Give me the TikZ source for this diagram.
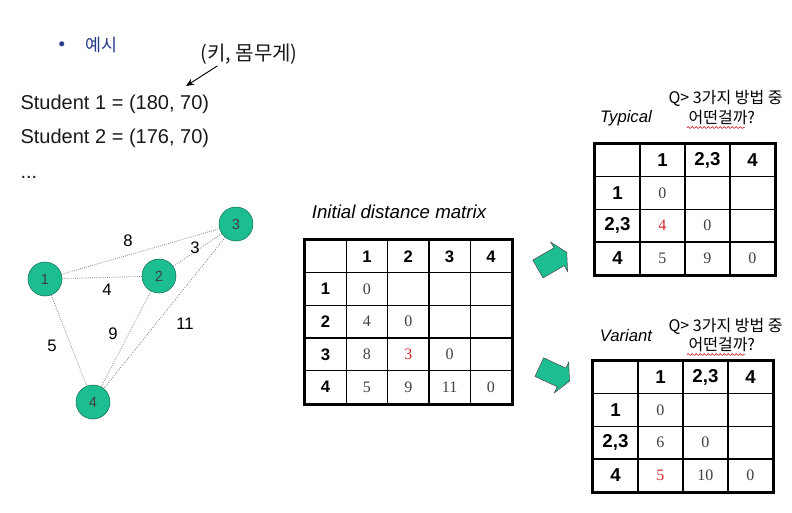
\documentclass[tikz,border=0pt]{standalone}
\usepackage{fontspec}
\setmainfont{Liberation Sans}
\newfontfamily\numfont{Liberation Serif}
\newfontfamily\krfont{Noto Sans CJK KR}
\usetikzlibrary{arrows.meta, positioning, matrix, shapes.arrows, decorations.pathmorphing}

\definecolor{vertexgreen}{RGB}{28,190,145}
\definecolor{vertexline}{RGB}{20,110,85}
\definecolor{bulletblue}{RGB}{40,60,140}
\definecolor{hotred}{RGB}{215,40,45}

\begin{document}
\begin{tikzpicture}[
    x=0.75pt, y=-0.75pt,
    txt/.style={inner sep=1pt, font=\fontsize{15}{18}\selectfont, text=black!90},
    vertex/.style={circle, draw=vertexline, fill=vertexgreen, minimum size=25.5pt, inner sep=0pt, font=\fontsize{11}{13}\selectfont, text=black!75},
    link/.style={gray, densely dotted, line width=0.6pt},
    weight/.style={inner sep=1pt, font=\fontsize{12.5}{15}\selectfont},
    cell/.style={draw, line width=1pt, inner sep=0pt, anchor=center, minimum height=24.5pt},
    entry/.style={font=\numfont\fontsize{12}{14}\selectfont, text=black!75},
    head/.style={font=\bfseries\fontsize{#1}{#1}\selectfont, text=black},
    hot/.style={text=hotred},
    dmatrix/.style 2 args={matrix of nodes, nodes in empty cells, inner sep=0pt,
        column sep=-1pt, row sep=-1pt, nodes={cell, entry, minimum width=#1},
        row 1/.style={nodes={head=#2}}, column 1/.style={nodes={head=#2}}},
    frame/.style={line width=2.2pt},
    caption/.style={inner sep=1pt, font=\itshape\fontsize{12.5}{15}\selectfont},
    qtext/.style={inner sep=1pt, anchor=west, font=\krfont\fontsize{12}{14}\selectfont},
    squiggle/.style={hotred, line width=0.5pt, decorate, decoration={snake, amplitude=0.7pt, segment length=3pt}},
    bigarrow/.style={single arrow, draw=black!70, fill=vertexgreen, minimum height=25pt, inner sep=7.5pt,
        single arrow head extend=5pt, single arrow tip angle=125},
    pointer/.style={-{Stealth[length=6pt, width=5pt]}, line width=0.7pt}
]
    \useasboundingbox (0,0) rectangle (792,512);

    % Example text
    \node[font=\fontsize{14}{14}\selectfont, text=bulletblue] (dot) at (62,46) {•};
    \node[txt, font=\krfont\fontsize{13}{15}\selectfont, text=bulletblue, anchor=west] (ex) at (84,45) {예시};
    \node[txt, font=\krfont\fontsize{15}{18}\selectfont] (kg) at (249,54) {(키, 몸무게)};
    \coordinate (kgtip) at (186,86);
    \draw[pointer] ([xshift=14pt]kg.south west) -- (kgtip);

    \node[txt, anchor=west] (st1) at (19,104) {Student 1 = (180, 70)};
    \node[txt, anchor=west] (st2) at (19,138) {Student 2 = (176, 70)};
    \node[txt, anchor=west] (more) at (19,177) {...};

    % Graph
    \node[vertex] (n1) at (45,279) {1};
    \node[vertex] (n2) at (159,276) {2};
    \node[vertex] (n3) at (236,224) {3};
    \node[vertex] (n4) at (93,402) {4};

    \draw[link] (n1) -- (n3);
    \draw[link] (n2) -- (n3);
    \draw[link] (n1) -- (n2);
    \draw[link] (n1) -- (n4);
    \draw[link] (n2) -- (n4);
    \draw[link] (n3) -- (n4);

    \node[weight] (w13) at (128,241) {8};
    \node[weight] (w23) at (195,248) {3};
    \node[weight] (w12) at (107,290) {4};
    \node[weight] (w14) at (52,346) {5};
    \node[weight] (w24) at (113,334) {9};
    \node[weight] (w34) at (185,324) {11};

    % Initial matrix
    \node[caption, font=\itshape\fontsize{14}{16}\selectfont] (distcap) at (399,212) {Initial distance matrix};
    \matrix (dist) [dmatrix={31pt}{12.5}, anchor=north west] at (304,239) {
          & 1 & 2 & 3 & 4 \\
        1 & 0 &   &   &   \\
        2 & 4 & 0 &   &   \\
        3 & 8 & |[hot]| 3 & 0 & \\
        4 & 5 & 9 & 11 & 0 \\
    };
    \draw[frame] (dist.north west) rectangle (dist.south east);

    \node[bigarrow, rotate=30] (toup) at (550,262) {};
    \node[bigarrow, rotate=-25] (todown) at (552,373) {};

    % Typical
    \node[caption] (typcap) at (626,118) {Typical};
    \node[qtext] (typq) at (667,98) {Q> 3가지 방법 중};
    \node[qtext] (typqb) at (687,118) {어떤걸까?};
    \draw[squiggle] ([yshift=-0.5pt]typqb.south west) -- ([xshift=-9pt, yshift=-0.5pt]typqb.south east);
    \matrix (typ) [dmatrix={33.75pt}{14}, anchor=north west] at (594,143) {
            & 1 & 2,3 & 4 \\
        1   & 0 &     &   \\
        2,3 & |[hot]| 4 & 0 & \\
        4   & 5 & 9 & 0 \\
    };
    \draw[frame] (typ.north west) rectangle (typ.south east);

    % Variant
    \node[caption] (varcap) at (626,336) {Variant};
    \node[qtext] (varq) at (667,326) {Q> 3가지 방법 중};
    \node[qtext] (varqb) at (687,345) {어떤걸까?};
    \draw[squiggle] ([yshift=-0.5pt]varqb.south west) -- ([xshift=-9pt, yshift=-0.5pt]varqb.south east);
    \matrix (var) [dmatrix={33.75pt}{14}, anchor=north west] at (592,360) {
            & 1 & 2,3 & 4 \\
        1   & 0 &     &   \\
        2,3 & 6 & 0 &   \\
        4   & |[hot]| 5 & 10 & 0 \\
    };
    \draw[frame] (var.north west) rectangle (var.south east);

\end{tikzpicture}
\end{document}
